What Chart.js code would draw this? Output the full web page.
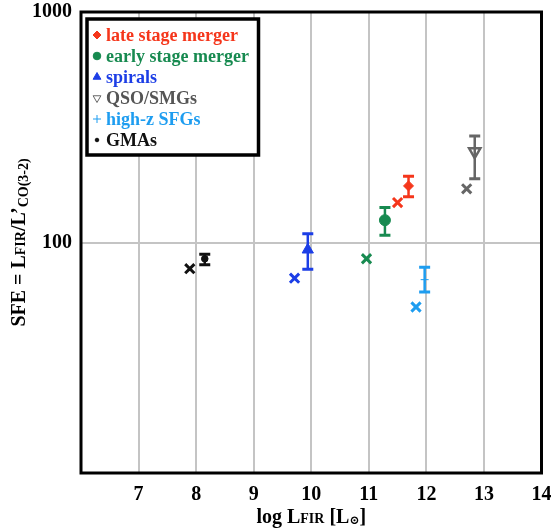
<!DOCTYPE html>
<html><head><meta charset="utf-8">
<script src="https://cdn.jsdelivr.net/npm/chart.js@4/dist/chart.umd.min.js"></script>
<style>html,body{margin:0;padding:0;background:#fff;}#wrap{width:551px;height:529px;position:relative;}</style>
</head><body><div id="wrap"><canvas id="c" width="551" height="529"></canvas></div>
<script>
// ---- data ----
const categories = ['late stage merger', 'early stage merger', 'spirals', 'QSO/SMGs', 'high-z SFGs', 'GMAs'];
const meanX = [11.69, 11.28, 9.94, 12.84, 11.97, 8.15];
const meanY = [176, 125, 93, 248, 69, 85];
const errLo = [158, 107.5, 76.5, 189, 61, 80];
const errHi = [194, 142, 109, 290, 78, 89];
const crossX = [11.50, 10.96, 9.71, 12.70, 11.82, 7.89];
const crossY = [149, 85, 70, 171, 52.5, 77];
const xTicks = [6, 7, 8, 9, 10, 11, 12, 13, 14];
const yTicks = [10, 100, 1000];

// ---- styles ----
const colors = ['#f5361b', '#178a50', '#1c3ee6', '#666666', '#1e9df0', '#111111'];
const textColors = ['#f5361b', '#178a50', '#1c3ee6', '#555555', '#1e9df0', '#111111'];
const pStyles = ['rectRot', 'circle', 'triangle', 'triangle', 'cross', 'circle'];
const pRot = [0, 0, 0, 180, 0, 0];
const pRad = [5, 5.5, 6.5, 6.5, 4, 3.3];
const pFill = [true, true, true, false, true, true];
const SERIF = '"Liberation Serif", "DejaVu Serif", serif';

const datasets = [];
categories.forEach((c, i) => {
  datasets.push({
    label: c,
    data: [{x: meanX[i], y: meanY[i]}],
    pointStyle: pStyles[i], rotation: pRot[i], pointRadius: pRad[i],
    backgroundColor: pFill[i] ? colors[i] : 'rgba(0,0,0,0)',
    borderColor: colors[i], borderWidth: pFill[i] ? 1 : 2.5,
    showLine: false
  });
});
categories.forEach((c, i) => {
  datasets.push({
    label: c + ' (x)',
    data: [{x: crossX[i], y: crossY[i]}],
    pointStyle: 'crossRot', pointRadius: 6.5,
    borderColor: colors[i], backgroundColor: colors[i], borderWidth: 3,
    showLine: false
  });
});

function drawRuns(ctx, runs, cx, baseY) {
  let total = 0;
  runs.forEach(r => { ctx.font = 'bold ' + r.size + 'px ' + SERIF; r.w = ctx.measureText(r.t).width; total += r.w; });
  let x = cx - total / 2;
  ctx.textAlign = 'left'; ctx.textBaseline = 'alphabetic';
  runs.forEach(r => { ctx.font = 'bold ' + r.size + 'px ' + SERIF; ctx.fillText(r.t, x, baseY + (r.dy || 0)); x += r.w; });
}

const errPlugin = {
  id: 'errbars',
  beforeDatasetsDraw(chart) {
    const ctx = chart.ctx, xs = chart.scales.x, ys = chart.scales.y;
    ctx.save();
    categories.forEach((c, i) => {
      const px = xs.getPixelForValue(meanX[i]);
      const pt = ys.getPixelForValue(errHi[i]);
      const pb = ys.getPixelForValue(errLo[i]);
      ctx.strokeStyle = colors[i];
      ctx.lineWidth = 2.5;
      ctx.beginPath(); ctx.moveTo(px, pt); ctx.lineTo(px, pb); ctx.stroke();
      ctx.lineWidth = 3;
      ctx.beginPath();
      ctx.moveTo(px - 5.5, pt); ctx.lineTo(px + 5.5, pt);
      ctx.moveTo(px - 5.5, pb); ctx.lineTo(px + 5.5, pb);
      ctx.stroke();
    });
    ctx.restore();
  },
  afterDraw(chart) {
    const ctx = chart.ctx, a = chart.chartArea;
    ctx.save();
    // frame
    ctx.strokeStyle = '#000'; ctx.lineWidth = 3;
    ctx.strokeRect(a.left, a.top, a.right - a.left, a.bottom - a.top);
    // legend
    const lx = 87, ly = 19, lw = 171.5, lh = 136;
    ctx.fillStyle = '#fff'; ctx.fillRect(lx, ly, lw, lh);
    ctx.lineWidth = 3.5; ctx.strokeStyle = '#000'; ctx.strokeRect(lx, ly, lw, lh);
    const legR = [4, 3.8, 4.5, 4.5, 4, 1.8];
    categories.forEach((c, i) => {
      const cy = 35 + i * 21;
      ctx.fillStyle = pFill[i] ? colors[i] : 'rgba(0,0,0,0)';
      ctx.strokeStyle = colors[i];
      ctx.lineWidth = 1;
      Chart.helpers.drawPoint(ctx, {pointStyle: pStyles[i], radius: legR[i], rotation: pRot[i], borderWidth: pStyles[i] === 'cross' ? 1.5 : (pFill[i] ? 0.5 : 1.2)}, 97, cy);
      ctx.fillStyle = textColors[i];
      ctx.font = 'bold 18px ' + SERIF;
      ctx.textAlign = 'left'; ctx.textBaseline = 'middle';
      ctx.fillText(c, 106, cy + 1);
    });
    // x title
    ctx.fillStyle = '#000';
    drawRuns(ctx, [{t: 'log L', size: 20}, {t: 'FIR', size: 14}, {t: ' [L', size: 20}, {t: '\u2299', size: 12, dy: 1}, {t: ']', size: 20}], (a.left + a.right) / 2, 523);
    // y title
    ctx.translate(18, (a.top + a.bottom) / 2);
    ctx.rotate(-Math.PI / 2);
    drawRuns(ctx, [{t: 'SFE = L', size: 20}, {t: 'FIR', size: 14}, {t: '/L\u2019', size: 20}, {t: 'CO(3-2)', size: 14, dy: 3}], 0, 7);
    ctx.restore();
  }
};

new Chart(document.getElementById('c'), {
  type: 'scatter',
  data: {datasets},
  plugins: [errPlugin],
  options: {
    responsive: false, animation: false, devicePixelRatio: 1,
    layout: {padding: {left: 0, right: 9, top: 12, bottom: 0}},
    plugins: {legend: {display: false}, tooltip: {enabled: false}},
    scales: {
      x: {
        type: 'linear', min: 6, max: 14,
        afterFit(s) { s.height = 56; s.paddingLeft = 0; s.paddingRight = 0; },
        afterBuildTicks(s) { s.ticks = xTicks.map(v => ({value: v})); },
        grid: {color: '#c4c4c4', lineWidth: 2, drawTicks: false},
        border: {display: false},
        ticks: {padding: 10, color: '#000', font: {family: SERIF, size: 20, weight: 'bold'},
          callback: v => v === 6 ? '' : String(v)}
      },
      y: {
        type: 'logarithmic', min: 10, max: 1000,
        afterFit(s) { s.width = 81; s.paddingTop = 0; s.paddingBottom = 0; },
        afterBuildTicks(s) { s.ticks = yTicks.map(v => ({value: v})); },
        grid: {color: '#c4c4c4', lineWidth: 2, drawTicks: false},
        border: {display: false},
        ticks: {padding: 9, color: '#000', font: {family: SERIF, size: 20, weight: 'bold'},
          callback: v => v === 10 ? '' : String(v)}
      }
    }
  }
});
</script></body></html>
